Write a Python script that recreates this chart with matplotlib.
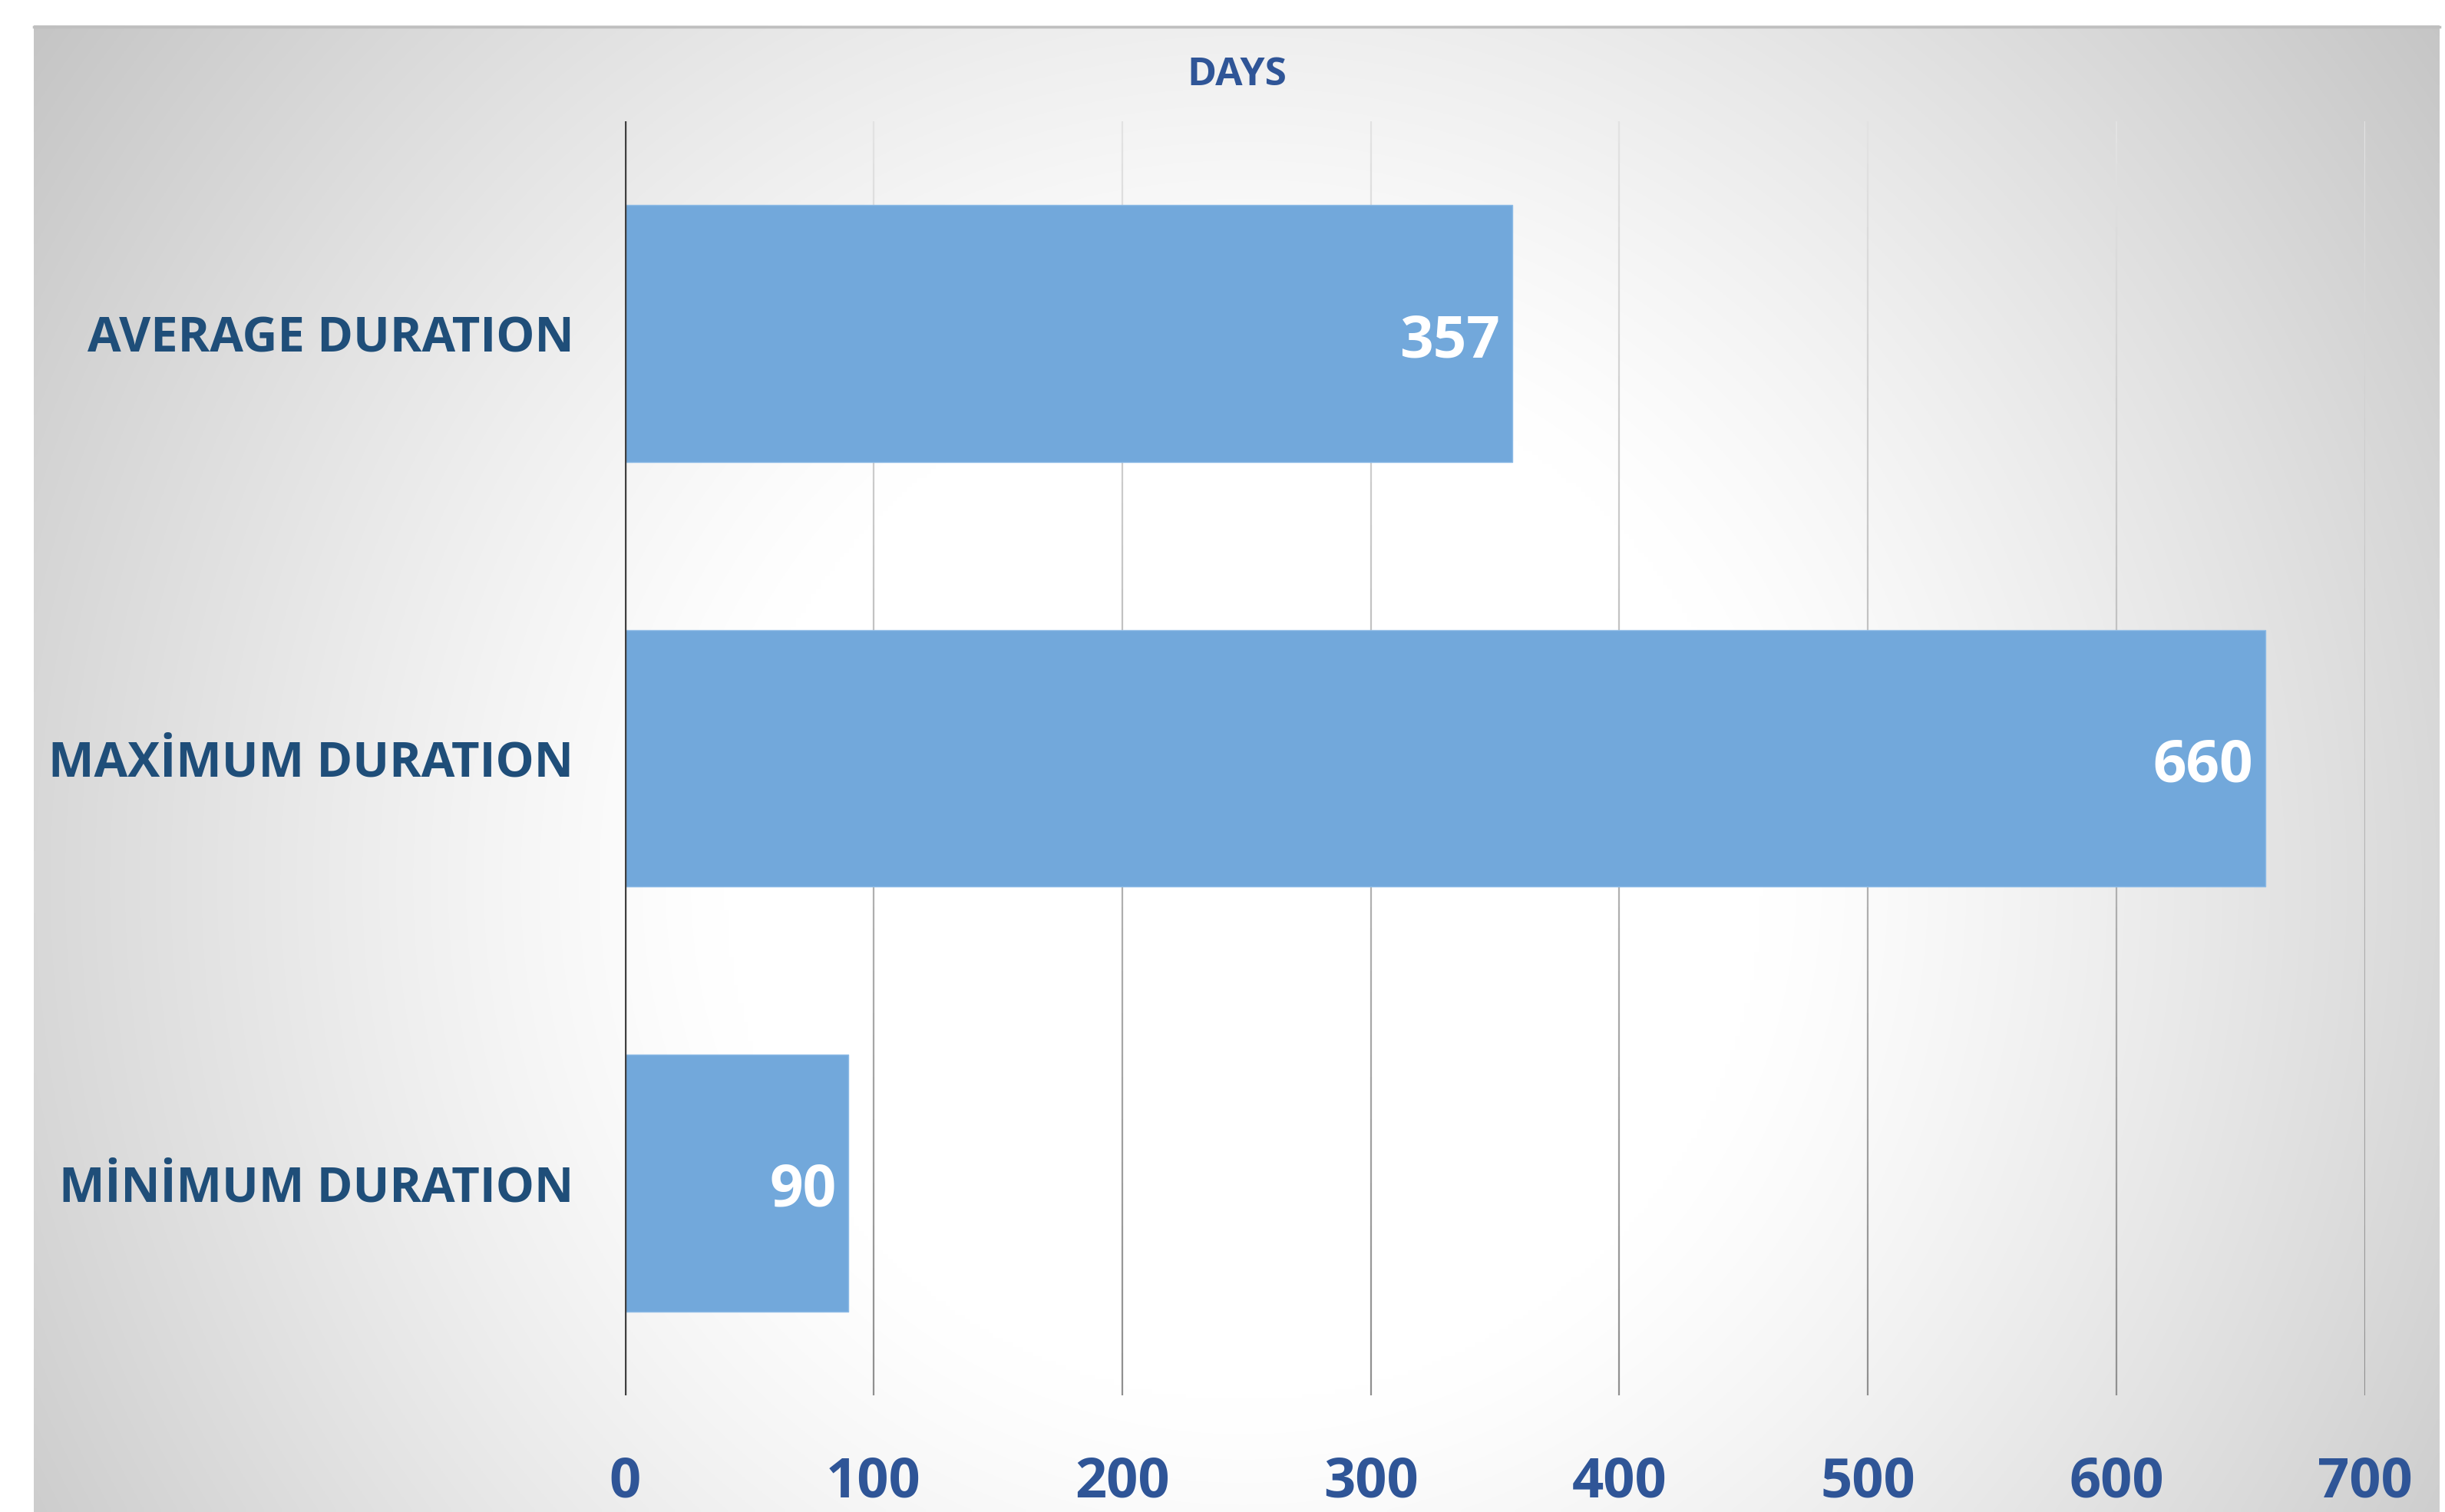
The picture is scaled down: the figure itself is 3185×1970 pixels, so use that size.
import numpy as np
import matplotlib
matplotlib.use("Agg")
import matplotlib.pyplot as plt
from matplotlib.collections import LineCollection

categories = ["AVERAGE DURATION", "MAXİMUM DURATION", "MİNİMUM DURATION"]
values = [357, 660, 90]
xticks = [0, 100, 200, 300, 400, 500, 600, 700]
axis_title = "DAYS"

FONT = ["Open Sans", "DejaVu Sans"]
W, H = 3185, 1970
fig = plt.figure(figsize=(W / 100, H / 100), dpi=100)
fig.patch.set_facecolor("white")

# background panel with radial gradient
px0, py0, px1 = 44, 33, 3178
bg = fig.add_axes([px0 / W, 0, (px1 - px0) / W, (H - py0) / H], zorder=-5)
nx, ny = 500, 320
xs = np.linspace(px0, px1, nx)
ys = np.linspace(py0, H, ny)
xx, yy = np.meshgrid(xs, ys)
cx, cy = 1620, 1150
r = np.sqrt((xx - cx) ** 2 + (yy - cy) ** 2) / 1940.0
t = np.clip((r - 0.35) / 0.65, 0, 1)
g = 1.0 - 0.23 * t ** 1.2
img = np.dstack([g, g, g])
bg.imshow(img, aspect="auto", extent=[0, 1, 1, 0], interpolation="bilinear")
bg.set_xlim(0, 1)
bg.set_ylim(1, 0)
bg.axis("off")
bg.plot([0, 1], [0.001, 0.001], color="#bfbfbf", lw=2.5, clip_on=False)

# main axes
left, right = 814 / W, 3081 / W
top, bottom = 1 - 158 / H, 1 - 1818 / H
ax = fig.add_axes([left, bottom, right - left, top - bottom])
ax.set_facecolor("none")
for s in ax.spines.values():
    s.set_visible(False)

y = np.arange(len(categories))
ax.set_ylim(2.5, -0.5)
ax.set_xlim(0, 700)

# gridlines with a vertical colour gradient (light at top, darker at bottom)
nseg = 60
ygrid = np.linspace(-0.5, 2.5, nseg + 1)
segs, cols = [], []
for xv in xticks[1:]:
    for i in range(nseg):
        segs.append([(xv, ygrid[i]), (xv, ygrid[i + 1])])
        f = (i + 0.5) / nseg
        c = 0.89 - 0.33 * f
        cols.append((c, c, c))
ax.add_collection(LineCollection(segs, colors=cols, linewidths=1.6, zorder=1, capstyle="butt"))

ax.barh(y, values, height=0.605, color="#72a8db", edgecolor="#8dbbe6", linewidth=1.0, zorder=3)

ax.set_xticks(xticks)
ax.set_xticklabels([str(t) for t in xticks], fontsize=52, fontweight="bold", color="#2f5597", family=FONT)
ax.tick_params(axis="x", length=0, pad=56)
ax.set_yticks(y)
ax.set_yticklabels(categories, fontsize=45.5, fontweight="bold", color="#1f4e79", family=FONT)
ax.tick_params(axis="y", length=0, pad=48)

ax.axvline(0, color="#404040", lw=2.5, zorder=4)

for yi, v in zip(y, values):
    ax.text(v - 5, yi + 0.02, str(v), ha="right", va="center", fontsize=55,
            fontweight="bold", color="white", family=FONT, zorder=5)

fig.text(1611 / W, 1 - 98 / H, axis_title, ha="center", va="center", fontsize=37,
         fontweight="bold", color="#2f5597", family=FONT)

fig.savefig("out.png", dpi=100)
